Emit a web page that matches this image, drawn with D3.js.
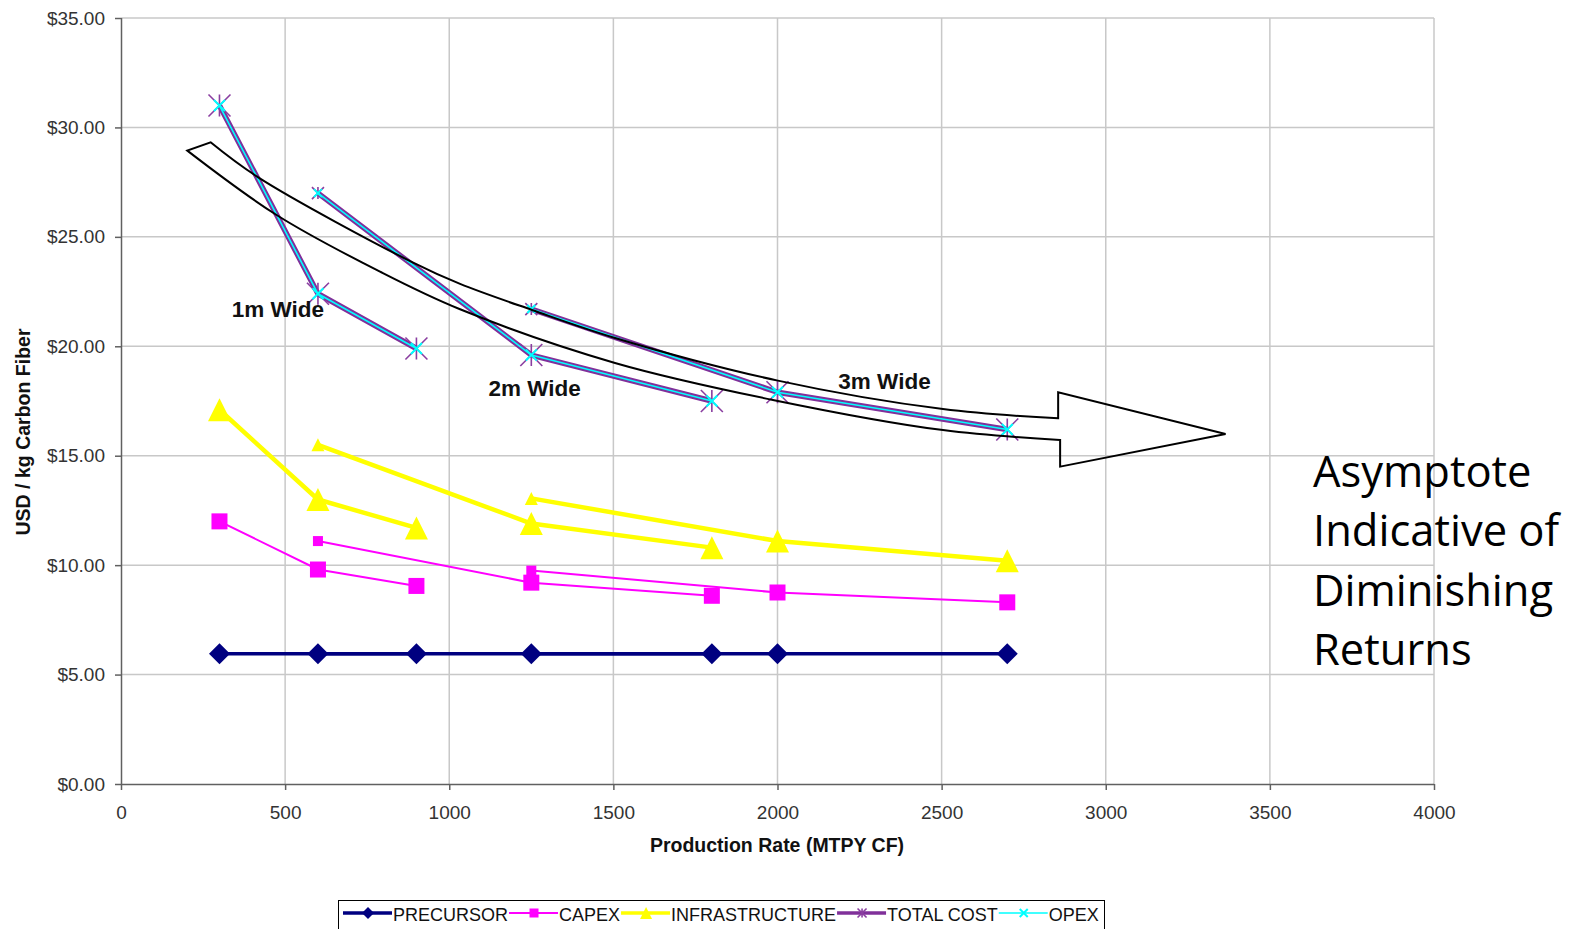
<!DOCTYPE html>
<html>
<head>
<meta charset="utf-8">
<script src="https://cdn.jsdelivr.net/npm/d3@7"></script>
<style>
  html, body { margin: 0; padding: 0; background: #fff; overflow: hidden; }
  svg { display: block; }
  text { font-family: "Liberation Sans", Arial, sans-serif; }
</style>
</head>
<body>
<svg id="chart" width="1570" height="929"></svg>
<script>
// Carbon fiber cost by production rate, for 1m / 2m / 3m wide lines.
const lineWidths = ["1m Wide", "2m Wide", "3m Wide"];
const productionRates = [[300, 600, 900], [600, 1250, 1800], [1250, 2000, 2700]];

const precursorCost = [[5.95, 5.95, 5.95], [5.95, 5.95, 5.95], [5.95, 5.95, 5.95]];
const capexCost = [[12.0, 9.8, 9.05], [11.1, 9.2, 8.6], [9.75, 8.75, 8.3]];
const infrastructureCost = [[17.1, 13.0, 11.7], [15.5, 11.9, 10.8], [13.05, 11.1, 10.2]];
const totalCost = [[31.0, 22.4, 19.9], [27.0, 19.6, 17.5], [21.7, 17.9, 16.2]];
const opexCost = [[31.0, 22.4, 19.9], [27.0, 19.6, 17.5], [21.7, 17.9, 16.2]];

const seriesNames = ["PRECURSOR", "CAPEX", "INFRASTRUCTURE", "TOTAL COST", "OPEX"];

const yTicks = [0, 5, 10, 15, 20, 25, 30, 35];
const xTicks = [0, 500, 1000, 1500, 2000, 2500, 3000, 3500, 4000];

// Label anchors for the line-width groups (production rate, USD)
const widthLabelAnchors = [[478, 21.66], [1260, 18.05], [2326, 18.37]];

// Curved "diminishing returns" arrow, in chart units
const arrowUpperEdge = [[273, 29.32], [418, 27.72], [890, 23.82], [1033, 22.85], [1252, 21.66],
                        [1505, 20.38], [2001, 18.43], [2504, 17.13], [2855, 16.71]];
const arrowLowerEdge = [[202, 28.94], [474, 26.0], [789, 23.41], [1033, 21.69], [1505, 19.24],
                        [1986, 17.55], [2504, 16.17], [2861, 15.72]];
const arrowHead = [[2855, 17.90], [3365, 15.99], [2861, 14.50]];

const noteLines = ["Asymptote", "Indicative of", "Diminishing", "Returns"];

const svg = d3.select("#chart");
const plot = { left: 121, right: 1434, top: 18, bottom: 784 };

const x = d3.scaleLinear().domain([0, 4000]).range([plot.left, plot.right]);
const y = d3.scaleLinear().domain([0, 35]).range([plot.bottom, plot.top]);

// Gridlines
const grid = svg.append("g");
grid.selectAll("line.h").data(yTicks.filter(d => d > 0)).join("line")
  .attr("x1", plot.left).attr("x2", plot.right)
  .attr("y1", d => y(d)).attr("y2", d => y(d))
  .attr("stroke", "#c8c8c8").attr("stroke-width", 1.5);
grid.selectAll("line.v").data(xTicks.filter(d => d > 0)).join("line")
  .attr("x1", d => x(d)).attr("x2", d => x(d))
  .attr("y1", plot.top).attr("y2", plot.bottom)
  .attr("stroke", "#c8c8c8").attr("stroke-width", 1.5);

// Axes
const yAxis = svg.append("g").attr("transform", `translate(${plot.left},0)`)
  .call(d3.axisLeft(y).tickValues(yTicks).tickFormat(d => "$" + d.toFixed(2)).tickSize(6).tickPadding(10));
const xAxis = svg.append("g").attr("transform", `translate(0,${plot.bottom})`)
  .call(d3.axisBottom(x).tickValues(xTicks).tickFormat(d3.format("d")).tickSize(6).tickPadding(16));
[yAxis, xAxis].forEach(a => {
  a.select(".domain").attr("stroke", "#606060").attr("stroke-width", 1.5);
  a.selectAll(".tick line").attr("stroke", "#606060").attr("stroke-width", 1.5);
  a.selectAll(".tick text").attr("fill", "#333").style("font-size", "19px")
    .style("font-family", '"Liberation Sans", Arial, sans-serif');
});
xAxis.select(".domain").attr("d", `M${plot.left},0.5H${plot.right}`);
yAxis.select(".domain").attr("d", `M0.5,${plot.bottom}V${plot.top}`);

// Axis titles
svg.append("text")
  .attr("x", 777).attr("y", 852)
  .attr("text-anchor", "middle").attr("font-weight", "bold").attr("font-size", 19.5).attr("fill", "#111")
  .text("Production Rate (MTPY CF)");
svg.append("text")
  .attr("transform", `translate(30,432) rotate(-90)`)
  .attr("text-anchor", "middle").attr("font-weight", "bold").attr("font-size", 19.5).attr("fill", "#111")
  .text("USD / kg Carbon Fiber");

// Marker shapes
function drawMarker(g, type, cx, cy, s) {
  if (type === "diamond") {
    g.append("path").attr("d", `M${cx},${cy - s}L${cx + s},${cy}L${cx},${cy + s}L${cx - s},${cy}Z`)
      .attr("fill", "#000080");
  } else if (type === "square") {
    g.append("rect").attr("x", cx - s).attr("y", cy - s).attr("width", 2 * s).attr("height", 2 * s)
      .attr("fill", "#ff00ff");
  } else if (type === "triangle") {
    g.append("path").attr("d", `M${cx},${cy - s}L${cx + s},${cy + s}L${cx - s},${cy + s}Z`)
      .attr("fill", "#ffff00");
  } else if (type === "star") {
    g.append("path")
      .attr("d", `M${cx - s},${cy - s}L${cx + s},${cy + s}M${cx + s},${cy - s}L${cx - s},${cy + s}M${cx},${cy - s}L${cx},${cy + s}`)
      .attr("stroke", "#8a3ea0").attr("stroke-width", 1.6).attr("fill", "none");
  } else if (type === "cross") {
    g.append("path")
      .attr("d", `M${cx - s},${cy - s}L${cx + s},${cy + s}M${cx + s},${cy - s}L${cx - s},${cy + s}`)
      .attr("stroke", "#00ffff").attr("stroke-width", 2).attr("fill", "none");
  }
}

const seriesStyles = [
  { values: precursorCost, color: "#000080", width: 3.5, marker: "diamond", big: 10.5, small: 5 },
  { values: capexCost, color: "#ff00ff", width: 2, marker: "square", big: 8, small: 5 },
  { values: infrastructureCost, color: "#ffff00", width: 4.5, marker: "triangle", big: 11.5, small: 6.5 },
  { values: totalCost, color: "#80309a", width: 5.5, marker: "star", big: 11, small: 6 },
  { values: opexCost, color: "#00ffff", width: 1.6, marker: "cross", big: 5.5, small: 4 }
];

const line = d3.line().x(d => x(d[0])).y(d => y(d[1]));

seriesStyles.forEach((s, si) => {
  const g = svg.append("g").attr("class", "series-" + si);
  s.values.forEach((vals, gi) => {
    const pts = productionRates[gi].map((r, i) => [r, vals[i]]);
    g.append("path").attr("d", line(pts)).attr("fill", "none")
      .attr("stroke", s.color).attr("stroke-width", s.width).attr("stroke-linejoin", "round");
  });
  s.values.forEach((vals, gi) => {
    productionRates[gi].forEach((r, i) => {
      const size = (gi > 0 && i === 0) ? s.small : s.big;
      drawMarker(g, s.marker, x(r), y(vals[i]), size);
    });
  });
});

// Line-width group labels
svg.selectAll("text.width-label").data(lineWidths).join("text")
  .attr("class", "width-label")
  .attr("x", (d, i) => x(widthLabelAnchors[i][0]))
  .attr("y", (d, i) => y(widthLabelAnchors[i][1]))
  .attr("text-anchor", "middle").attr("dominant-baseline", "central")
  .attr("font-weight", "bold").attr("font-size", 22.5).attr("fill", "#111")
  .text(d => d);

// Curved arrow
const edge = d3.line().x(d => x(d[0])).y(d => y(d[1])).curve(d3.curveCatmullRom);
const upperPath = edge(arrowUpperEdge);
const lowerPath = edge(arrowLowerEdge.slice().reverse()).replace(/^M/, "L");
const headPath = arrowHead.map(p => `L${x(p[0])},${y(p[1])}`).join("");
svg.append("path")
  .attr("d", upperPath + headPath + lowerPath + "Z")
  .attr("fill", "none").attr("stroke", "#000").attr("stroke-width", 2).attr("stroke-linejoin", "miter");

// Side note
svg.append("g").selectAll("text").data(noteLines).join("text")
  .attr("x", 1313).attr("y", (d, i) => 487 + i * 59.3)
  .style("font-family", '"Open Sans", "Noto Sans", sans-serif')
  .attr("font-size", 43.5).attr("fill", "#000")
  .text(d => d);

// Legend
const legend = svg.append("g");
legend.append("rect").attr("x", 338.5).attr("y", 900.5).attr("width", 766).attr("height", 40)
  .attr("fill", "#fff").attr("stroke", "#000").attr("stroke-width", 1);
const legendMarkerSize = [6, 4.5, 6, 4.5, 4];
let lx = 343;
seriesNames.forEach((name, i) => {
  const s = seriesStyles[i];
  const ly = 913;
  legend.append("line").attr("x1", lx).attr("x2", lx + 49).attr("y1", ly).attr("y2", ly)
    .attr("stroke", s.color).attr("stroke-width", Math.min(s.width, 3.5));
  drawMarker(legend, s.marker, lx + 25, ly, legendMarkerSize[i]);
  const t = legend.append("text").attr("x", lx + 50).attr("y", ly + 1.5).attr("dominant-baseline", "central")
    .attr("font-size", 18).attr("fill", "#111").text(name);
  lx += 50 + t.node().getComputedTextLength() + 1;
});
</script>
</body>
</html>
